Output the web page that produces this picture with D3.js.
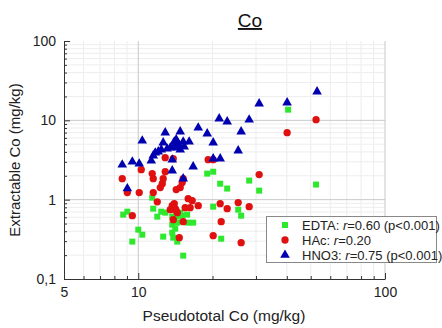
<!DOCTYPE html>
<html><head><meta charset="utf-8">
<script src="https://cdn.jsdelivr.net/npm/d3@7"></script>
<style>body{margin:0;background:#fff}svg{display:block}text{font-family:"Liberation Sans",Arial,sans-serif}</style>
</head><body>
<svg id="c" width="442" height="328"></svg>
<script>
// EDTA (green squares): [pseudototal, extractable]
const edtaX = [8.69,9.03,9.46,10.0,10.38,11.39,11.50,11.94,12.39,12.86,12.62,13.73,13.73,13.73,13.86,14.12,14.39,14.39,14.39,14.79,15.07,15.78,15.93,16.69,15.21,19.03,20.12,21.48,22.93,20.12,21.68,25.41,26.12,28.15,30.90,40.48,52.55,14.12];
const edtaY = [0.647,0.706,0.296,0.419,0.362,1.06,0.770,0.611,0.706,0.686,0.342,0.611,0.484,0.384,0.332,0.748,0.611,0.513,0.296,0.686,0.628,0.647,0.513,0.513,0.197,2.13,2.25,1.59,1.38,0.816,0.322,0.748,0.628,1.74,1.30,13.63,1.55,0.431];
// HAc (red circles)
const hacX = [8.61,9.03,9.46,10.09,10.28,11.39,11.50,11.50,11.94,12.28,12.51,12.62,12.86,12.86,13.86,14.25,14.79,15.21,15.07,15.93,16.54,17.50,13.73,13.99,14.12,14.39,13.86,15.21,15.49,16.23,14.66,19.20,20.12,21.48,22.93,21.68,20.12,25.41,28.15,26.12,30.90,40.11,52.55,14.25,13.48];
const hacY = [1.84,1.23,0.628,1.23,2.39,2.13,1.84,1.23,0.94,1.42,1.59,1.84,2.25,3.38,3.29,1.34,1.42,1.84,1.64,1.03,0.97,0.84,0.84,0.89,0.770,0.686,0.560,0.528,0.793,0.793,0.332,3.19,3.19,0.89,0.770,0.528,0.352,0.92,0.816,0.287,2.07,6.99,10.19,0.727,0.748];
// HNO3 (blue triangles)
const hno3X = [8.61,9.03,9.46,10.09,10.38,11.29,11.50,11.72,12.05,12.39,12.62,12.86,13.10,13.48,13.73,13.86,13.99,14.25,14.39,14.52,14.79,14.79,15.21,15.35,16.08,13.73,15.21,16.69,17.50,19.03,20.12,20.12,21.48,21.28,22.93,25.41,26.12,28.15,30.90,40.11,53.05];
const hno3Y = [2.76,1.38,3.01,2.84,5.54,3.10,3.59,3.91,4.03,4.27,5.23,6.99,4.39,4.52,3.19,4.66,5.38,5.71,4.52,5.08,7.20,4.27,5.38,4.66,5.38,2.32,1.84,2.61,8.08,6.79,5.23,3.29,3.29,10.50,9.62,4.15,7.20,10.19,16.23,16.70,22.98];

const xTicks = [5,10,100];
const xTickLabels = ["5","10","100"];
const yTicks = [0.1,1,10,100];
const yTickLabels = ["0,1","1","10","100"];
const legendLabels = [["EDTA: ","r","=0.60 (p<0.001)"],["HAc: ","r","=0.20",""],["HNO3: ","r","=0.75 (p<0.001)"]];
const colors = ["#2ee82e","#e01010","#0000b0"];

const svg = d3.select("#c");
const L=64, R=385, T=41, B=279;
const x = d3.scaleLog().domain([5,100]).range([L,R]);
const y = d3.scaleLog().domain([0.1,100]).range([B,T]);

const minorX = [6,7,8,9,20,30,40,50,60,70,80,90];
const minorY = [0.2,0.3,0.4,0.5,0.6,0.7,0.8,0.9,2,3,4,5,6,7,8,9,20,30,40,50,60,70,80,90];

const g = svg.append("g");
// minor grid
g.selectAll(".mgx").data(minorX).enter().append("line")
 .attr("x1",d=>x(d)).attr("x2",d=>x(d)).attr("y1",T).attr("y2",B)
 .attr("stroke","#ededed").attr("stroke-width",1);
g.selectAll(".mgy").data(minorY).enter().append("line")
 .attr("y1",d=>y(d)).attr("y2",d=>y(d)).attr("x1",L).attr("x2",R)
 .attr("stroke","#ededed").attr("stroke-width",1);
// major grid
g.selectAll(".Mgx").data([10,100]).enter().append("line")
 .attr("x1",d=>x(d)).attr("x2",d=>x(d)).attr("y1",T).attr("y2",B)
 .attr("stroke","#c8c8c8").attr("stroke-width",1);
g.selectAll(".Mgy").data([1,10]).enter().append("line")
 .attr("y1",d=>y(d)).attr("y2",d=>y(d)).attr("x1",L).attr("x2",R)
 .attr("stroke","#c8c8c8").attr("stroke-width",1);

// axes
const xAxis = d3.axisBottom(x).tickValues(xTicks.concat(minorX))
 .tickFormat(d=>{const i=xTicks.indexOf(d);return i>=0?xTickLabels[i]:"";})
 .tickSizeInner(0).tickSizeOuter(0).tickPadding(8);
const ax = svg.append("g").attr("transform",`translate(0,${B})`).call(xAxis);
ax.select(".domain").attr("stroke","#333");
ax.selectAll(".tick line").attr("y2",d=>xTicks.includes(d)?-6:-3).attr("stroke","#333");
ax.selectAll("text").attr("font-size",14).attr("fill","#222");

const yAxis = d3.axisLeft(y).tickValues(yTicks.concat(minorY))
 .tickFormat(d=>{const i=yTicks.indexOf(d);return i>=0?yTickLabels[i]:"";})
 .tickSizeInner(0).tickSizeOuter(0).tickPadding(8);
const ay = svg.append("g").attr("transform",`translate(${L},0)`).call(yAxis);
ay.select(".domain").attr("stroke","#333");
ay.selectAll(".tick line").attr("x2",d=>yTicks.includes(d)?6:3).attr("stroke","#333");
ay.selectAll("text").attr("font-size",14).attr("fill","#222");

// points
const edta = edtaX.map((v,i)=>[v,edtaY[i]]);
const hac = hacX.map((v,i)=>[v,hacY[i]]);
const hno3 = hno3X.map((v,i)=>[v,hno3Y[i]]);
const sq = d3.symbol().type(d3.symbolSquare).size(36);
const ci = d3.symbol().type(d3.symbolCircle).size(42);
const tr = d3.symbol().type(d3.symbolTriangle).size(40);
svg.append("g").selectAll("path").data(edta).enter().append("path")
 .attr("d",sq).attr("transform",d=>`translate(${x(d[0])},${y(d[1])})`).attr("fill",colors[0]);
svg.append("g").selectAll("path").data(hac).enter().append("path")
 .attr("d",ci).attr("transform",d=>`translate(${x(d[0])},${y(d[1])})`).attr("fill",colors[1]);
svg.append("g").selectAll("path").data(hno3).enter().append("path")
 .attr("d",tr).attr("transform",d=>`translate(${x(d[0])},${y(d[1])})`).attr("fill",colors[2]);

// legend
const lg = svg.append("g");
lg.append("rect").attr("x",266.5).attr("y",216.5).attr("width",170).attr("height",46)
 .attr("fill","#fff").attr("stroke","#888");
const syms=[sq,ci,tr];
legendLabels.forEach((lab,i)=>{
  const yy = 225+i*15;
  lg.append("path").attr("d",syms[i]).attr("transform",`translate(285,${yy})`).attr("fill",colors[i]);
  const t = lg.append("text").attr("x",302).attr("y",yy+5).attr("font-size",13).attr("fill","#222");
  t.append("tspan").text(lab[0]);
  t.append("tspan").attr("font-style","italic").text(lab[1]);
  t.append("tspan").text(lab[2]);
});

// titles
svg.append("text").attr("x",250).attr("y",27).attr("text-anchor","middle")
 .attr("font-size",19).attr("text-decoration","underline").attr("fill","#111").text("Co");
svg.append("text").attr("x",224).attr("y",321).attr("text-anchor","middle")
 .attr("font-size",15.5).attr("fill","#222").text("Pseudototal Co (mg/kg)");
svg.append("text").attr("transform","translate(20,160) rotate(-90)").attr("text-anchor","middle")
 .attr("font-size",15).attr("fill","#222").text("Extractable Co (mg/kg)");
</script>
</body></html>
